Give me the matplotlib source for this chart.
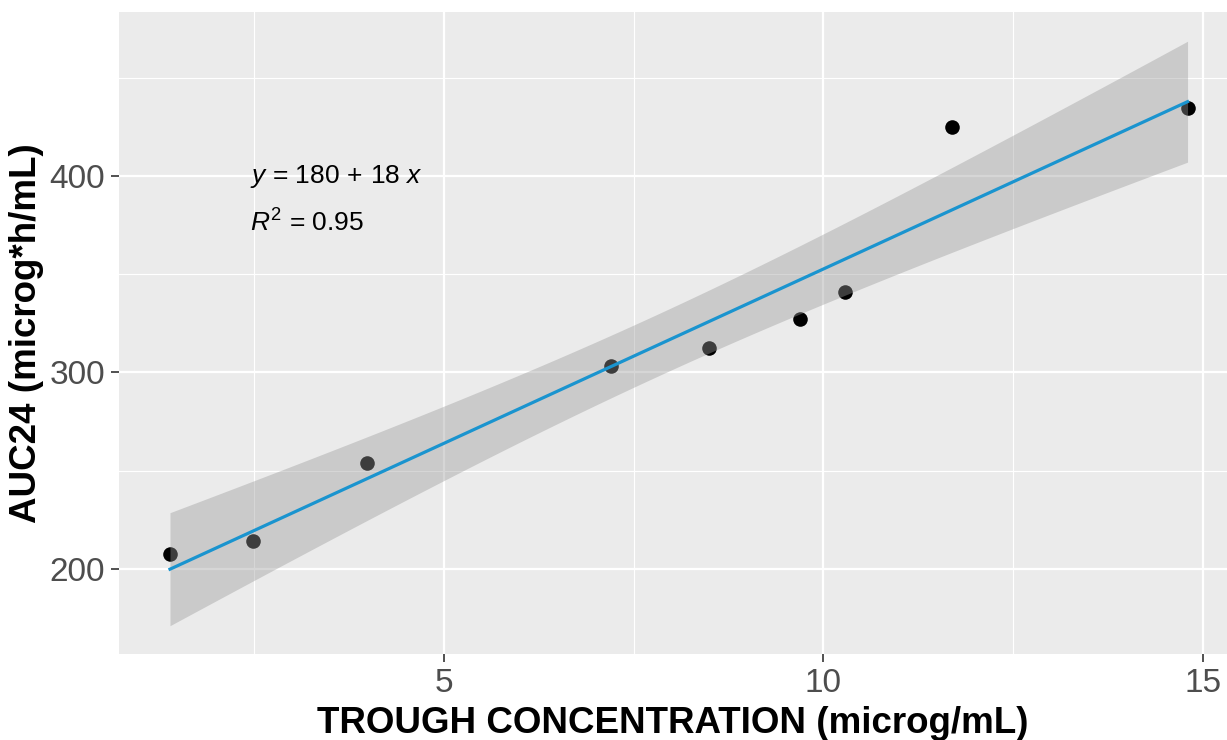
import numpy as np
import matplotlib
matplotlib.use("Agg")
import matplotlib.pyplot as plt
from matplotlib.ticker import MultipleLocator

plt.rcParams['font.family'] = ['Liberation Sans', 'DejaVu Sans']
plt.rcParams['mathtext.fontset'] = 'custom'
plt.rcParams['mathtext.rm'] = 'Liberation Sans'
plt.rcParams['mathtext.it'] = 'Liberation Sans:italic'

# values
trough = [1.39, 2.48, 3.99, 7.20, 8.50, 9.69, 10.28, 11.69, 14.80]
auc24 = [207.6, 214.2, 254.0, 303.3, 312.5, 327.2, 341.0, 425.0, 434.6]
eq_label = r"$y$ = 180$\,+\,$18 $x$"
r2_label = r"$R^2$ = 0.95"

x = np.array(trough)
y = np.array(auc24)
n = len(x)

# linear fit + 95% confidence band (t, df = 7)
slope, intercept = np.polyfit(x, y, 1)
resid = y - (intercept + slope * x)
s = np.sqrt(np.sum(resid ** 2) / (n - 2))
t_crit = 2.3646
xs = np.linspace(x.min(), x.max(), 80)
fit = intercept + slope * xs
se = s * np.sqrt(1 / n + (xs - x.mean()) ** 2 / np.sum((x - x.mean()) ** 2))

fig = plt.figure(figsize=(12.27, 7.40), dpi=100)
ax = fig.add_axes([119 / 1227, 86 / 740, 1 - 119 / 1227, 642 / 740])

ax.set_facecolor('#EBEBEB')
for sp in ax.spines.values():
    sp.set_visible(False)

ax.scatter(x, y, s=110, color='black', zorder=3, linewidths=0)
ax.fill_between(xs, fit - t_crit * se, fit + t_crit * se, color='#999999', alpha=0.4,
                linewidth=0, zorder=4)
ax.plot(xs, fit, color='#1A94CF', lw=2.3, zorder=5)

ax.set_xlim(0.718, 15.32)
ax.set_ylim(156.7, 483.5)
ax.xaxis.set_major_locator(MultipleLocator(5))
ax.xaxis.set_minor_locator(MultipleLocator(2.5))
ax.yaxis.set_major_locator(MultipleLocator(100))
ax.yaxis.set_minor_locator(MultipleLocator(50))
ax.grid(which='major', color='white', lw=1.6, zorder=0)
ax.grid(which='minor', color='white', lw=0.8, zorder=0)
ax.set_axisbelow(True)
ax.tick_params(which='major', length=6, width=1.2, color='#333333', labelcolor='#4D4D4D',
               labelsize=24, pad=4)
ax.tick_params(which='minor', length=0)

ax.set_xlabel("TROUGH CONCENTRATION (microg/mL)", fontsize=26.5, fontweight='bold', labelpad=5)
ax.set_ylabel("AUC24 (microg*h/mL)", fontsize=26.5, fontweight='bold', labelpad=4)

ax.text(2.45, 396.4, eq_label, fontsize=19, va='baseline', ha='left', zorder=6)
ax.text(2.45, 371.5, r2_label, fontsize=19, va='baseline', ha='left', zorder=6)

fig.savefig("out.png", dpi=100)
